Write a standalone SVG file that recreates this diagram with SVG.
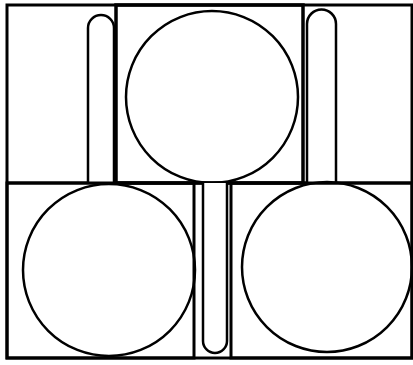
<svg xmlns="http://www.w3.org/2000/svg" width="413" height="365" viewBox="0 0 413 365">
<style>
.frame{fill:none;stroke:#000;stroke-width:3}
.pill{fill:#fff;stroke:#000;stroke-width:2.5}
.circ{fill:none;stroke:#000;stroke-width:2.5}
</style>
<rect width="413" height="365" fill="#fff"/>
<g id="frame">
<rect class="frame" x="7" y="5" width="405" height="353"/>
<line class="frame" x1="7" y1="183" x2="412" y2="183"/>
</g>
<g id="pill-left"><path class="pill" d="M88,183 V28 A13,13 0 0 1 114,28 V183"/></g>
<g id="pill-right"><path class="pill" d="M307,183 V24 A14.5,14.5 0 0 1 336,24 V183"/></g>
<g id="top-box">
<rect class="frame" x="116" y="5" width="187" height="178" style="stroke-width:3.5"/>
<circle class="circ" cx="212" cy="97" r="86"/>
</g>
<g id="bottom-left">
<rect class="frame" x="7" y="183" width="187" height="175"/>
<circle class="circ" cx="109" cy="270" r="86"/>
</g>
<g id="pill-bottom"><path class="pill" d="M203,183 V341 A12,12 0 0 0 227,341 V183"/></g>
<g id="bottom-right">
<rect class="frame" x="231" y="183" width="181" height="175"/>
<circle class="circ" cx="327" cy="267" r="85"/>
</g>
</svg>
